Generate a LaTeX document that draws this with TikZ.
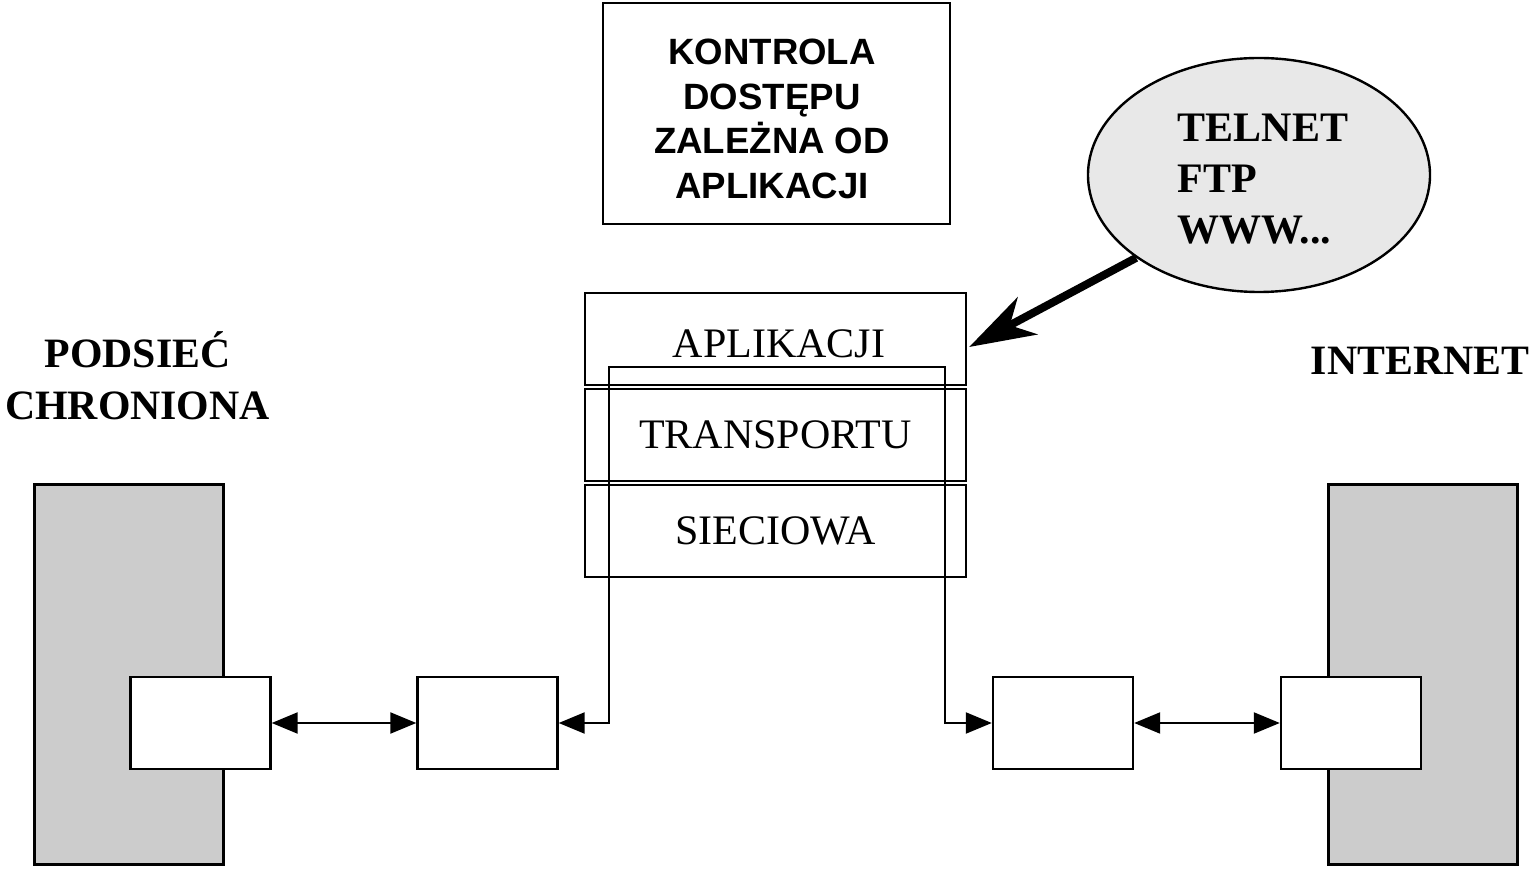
\documentclass[tikz,border=0pt]{standalone}
\usepackage{fontspec}
\setmainfont{Liberation Serif}
\newfontfamily\sansb{Liberation Sans}
\usetikzlibrary{arrows.meta,shapes.geometric,calc}
\begin{document}
\begin{tikzpicture}[x=0.5pt,y=-0.5pt,
  box/.style={draw, line width=1.2pt, fill=white, inner sep=0pt},
  graybox/.style={draw, line width=1.5pt, fill=black!20, inner sep=0pt, minimum width=94.5pt, minimum height=190pt},
  small/.style={box, minimum width=70pt, minimum height=46pt},
  layer/.style={box, fill=none, minimum width=190.5pt, minimum height=46pt, font=\fontsize{21}{25}\selectfont},
  lbl/.style={font=\bfseries\fontsize{20.9}{25}\selectfont, inner sep=0pt, anchor=base},
  conn/.style={line width=1.1pt, >={Triangle[length=13pt,width=10.5pt]}}
]
\useasboundingbox (0,0) rectangle (1533,870);

% gray networks
\node[graybox] (lnet) at (128.5,675) {};
\node[graybox] (rnet) at (1422.5,675) {};

% small boxes
\node[small] (li) at (200.5,723) {};
\node[small] (lm) at (487.5,723) {};
\node[small] (rm) at (1063,723) {};
\node[small] (ri) at (1351,723) {};

% top box
\node[box, minimum width=173.5pt, minimum height=110.5pt] (ctl) at (776.5,113.5) {};
\node[font=\sansb\bfseries\fontsize{18.3}{22.2}\selectfont, align=center, inner sep=0pt] (ctltxt) at (772,119) {KONTROLA\\DOSTĘPU\\ZALEŻNA OD\\APLIKACJI};

% layer stack
\node[layer] (app) at (775.5,339) {};
\node[font=\fontsize{21}{25}\selectfont, inner sep=0pt] (apptxt) at (779,344) {APLIKACJI};
\node[layer] (trn) at (775.5,435) {TRANSPORTU};
\node[layer] (net) at (775.5,531) {SIECIOWA};

% ellipse
\node[ellipse, draw, line width=1.2pt, fill=gray!18, minimum width=171pt, minimum height=117pt, inner sep=0pt] (ell) at (1259,175) {};
\node[align=left, inner sep=0pt, font=\bfseries\fontsize{21}{25.5}\selectfont] (elltxt) at (1263,179) {TELNET\\FTP\\WWW...};

% labels
\node[lbl] (l1) at (137.5,368) {PODSIEĆ};
\node[lbl] (l2) at (137.5,420) {CHRONIONA};
\node[lbl] (l3) at (1420,375) {INTERNET};

% connectors
\draw[conn, <->] (li.east) -- (lm.west);
\draw[conn, <->] (rm.east) -- (ri.west);
\coordinate (p1) at (609,367);
\coordinate (p2) at (945,367);
\draw[conn, <->] (lm.east) -| (p1) -- (p2) |- (rm.west);

% thick arrow
\draw[line width=4pt, -{Stealth[length=33pt,width=21pt,inset=10pt]}] (ell.214) -- ($(app.east)+(2,8)$);
\end{tikzpicture}
\end{document}
